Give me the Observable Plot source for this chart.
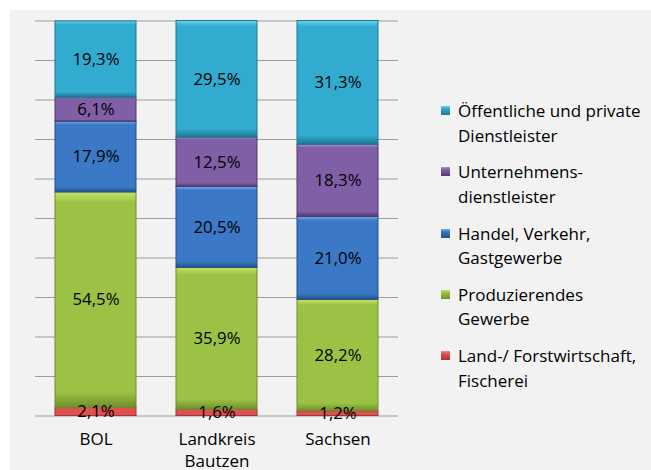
<!DOCTYPE html>
<html>
<head>
<meta charset="utf-8">
<script src="https://cdn.jsdelivr.net/npm/d3@7"></script>
<script src="https://cdn.jsdelivr.net/npm/@observablehq/plot@0.6"></script>
<style>
  html, body { margin: 0; padding: 0; background: #ffffff; }
  #wrap { position: relative; width: 651px; height: 470px; overflow: hidden; font-family: "Open Sans", sans-serif; }
  #panel { position: absolute; left: 10px; top: 10px; width: 641px; height: 460px; background: #f2f2f2; }
  #chart { position: absolute; left: 0; top: 0; }
  .leg { position: absolute; left: 441px; font-size: 17px; line-height: 24.5px; color: #000; }
  .leg .sw { position: absolute; left: 0; top: 7px; width: 9px; height: 9px; }
  .leg .tx { position: absolute; left: 17px; top: 0; white-space: nowrap; }
</style>
</head>
<body>
<div id="wrap"><div id="panel"></div><div id="chart"></div></div>
<script>
// ---- data ----
const categories = ["BOL", "Landkreis\nBautzen", "Sachsen"];
const seriesNames = [
  "Land-/ Forstwirtschaft, Fischerei",
  "Produzierendes Gewerbe",
  "Handel, Verkehr, Gastgewerbe",
  "Unternehmensdienstleister",
  "Öffentliche und private Dienstleister"
];
const landForst = [2.1, 1.6, 1.2];
const produzierend = [54.5, 35.9, 28.2];
const handel = [17.9, 20.5, 21.0];
const unternehmen = [6.1, 12.5, 18.3];
const oeffentlich = [19.3, 29.5, 31.3];
const yTicks = [0, 10, 20, 30, 40, 50, 60, 70, 80, 90, 100];
const legendLines = [
  ["Öffentliche und private", "Dienstleister"],
  ["Unternehmens-", "dienstleister"],
  ["Handel, Verkehr,", "Gastgewerbe"],
  ["Produzierendes", "Gewerbe"],
  ["Land-/ Forstwirtschaft,", "Fischerei"]
];
const legendSeries = [4, 3, 2, 1, 0];

// colours: [light, main, dark]
const colors = [
  ["#f08a8a", "#dc5252", "#a83434"],
  ["#c6e46a", "#9cc245", "#6f8f2a"],
  ["#6fb0ee", "#3b78c6", "#244f8a"],
  ["#ad8fd0", "#7f5fa6", "#54386f"],
  ["#6fd2ee", "#31abcf", "#1f7894"]
];

const valueArrays = [landForst, produzierend, handel, unternehmen, oeffentlich];
const rows = [];
valueArrays.forEach((arr, si) => {
  arr.forEach((v, ci) => rows.push({cat: categories[ci], series: seriesNames[si], si, value: v}));
});
const fmt = v => v.toFixed(1).replace(".", ",") + "%";

const chart = Plot.plot({
  width: 651,
  height: 470,
  marginLeft: 35,
  marginRight: 253,
  marginTop: 20.5,
  marginBottom: 54.5,
  style: {background: "transparent", fontFamily: "Open Sans, sans-serif"},
  x: {domain: categories, paddingInner: 0.33, paddingOuter: 0.165, axis: null},
  y: {domain: [0, 100], axis: null},
  color: {type: "identity"},
  marks: [
    Plot.ruleY(yTicks, {stroke: "#9c9c9c", strokeWidth: 1.2}),
    Plot.barY(rows, Plot.stackY({
      x: "cat", y: "value", z: "series", order: seriesNames,
      fill: d => `url(#grad${d.si})`,
      stroke: d => colors[d.si][2], strokeWidth: 1
    })),
    Plot.text(rows, Plot.stackY({
      x: "cat", y: "value", z: "series", order: seriesNames,
      text: d => fmt(d.value), fill: "#000", fontSize: 16.8
    })),
    Plot.text(categories, {
      x: d => d, y: () => 0, text: d => d, lineAnchor: "top", dy: 13,
      lineHeight: 1.3, fontSize: 17, fill: "#000"
    })
  ]
});

// gradient definitions for bevelled look
const ns = "http://www.w3.org/2000/svg";
const defs = document.createElementNS(ns, "defs");
colors.forEach((c, i) => {
  const g = document.createElementNS(ns, "linearGradient");
  g.setAttribute("id", "grad" + i);
  g.setAttribute("x1", "0"); g.setAttribute("y1", "0");
  g.setAttribute("x2", "0"); g.setAttribute("y2", "1");
  [[0, c[0]], [0.05, c[1]], [0.93, c[1]], [1, c[2]]].forEach(([o, col]) => {
    const s = document.createElementNS(ns, "stop");
    s.setAttribute("offset", o);
    s.setAttribute("stop-color", col);
    g.appendChild(s);
  });
  defs.appendChild(g);
});
chart.insertBefore(defs, chart.firstChild);
document.getElementById("chart").appendChild(chart);

// legend
const wrap = document.getElementById("wrap");
legendLines.forEach((lines, i) => {
  const item = document.createElement("div");
  item.className = "leg";
  item.style.top = (99 + i * 61.3) + "px";
  const sw = document.createElement("div");
  sw.className = "sw";
  const c = colors[legendSeries[i]];
  sw.style.background = `linear-gradient(${c[0]}, ${c[1]} 30%, ${c[2]})`;
  const tx = document.createElement("div");
  tx.className = "tx";
  tx.innerHTML = lines.join("<br>");
  item.appendChild(sw);
  item.appendChild(tx);
  wrap.appendChild(item);
});
</script>
</body>
</html>
